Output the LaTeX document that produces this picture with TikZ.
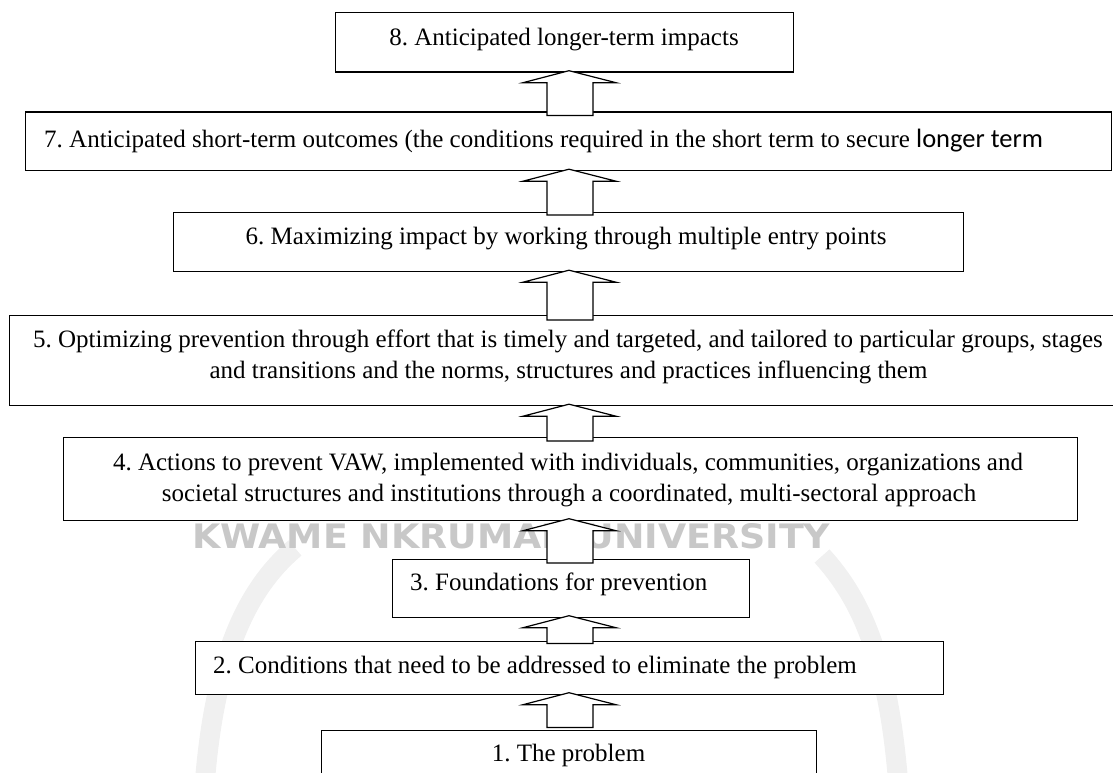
\documentclass[tikz,border=0pt]{standalone}
\usepackage{fontspec}
\setmainfont{Liberation Serif}
\newfontfamily\calibrifont{Carlito}
\newfontfamily\wmfont{DejaVu Sans Condensed}
\usetikzlibrary{calc}
\definecolor{wm}{RGB}{200,200,200}
\definecolor{logo}{RGB}{240,240,240}
\frenchspacing
\tikzset{
  box/.style={draw=black, line width=1.2pt, fill=white, rectangle, inner sep=0pt, anchor=north west},
  lbl/.style={inner sep=0pt, font=\fontsize{25}{31}\selectfont, anchor=base},
  lbll/.style={lbl, anchor=base west},
  barr/.style={draw=black, line width=1.2pt, fill=white, line join=miter},
  logoline/.style={draw=logo, line width=20pt},
}
% #1 shaft offset, #2 lower node, #3 upper node
\newcommand\blockarrow[3][4]{%
  \draw[barr] ($(ax |- #3.south)+(0,-2)$) -- ($(ax |- #3.south)+(47,10)$)
    -- ($(ax |- #3.south)+(24,10)$) -- ($(ax |- #2.north)+(24,#1)$)
    -- ($(ax |- #2.north)+(-22,#1)$) -- ($(ax |- #3.south)+(-22,10)$)
    -- ($(ax |- #3.south)+(-46,10)$) -- cycle;}
\begin{document}
\begin{tikzpicture}[x=1pt,y=-1pt]
\useasboundingbox (0,0) rectangle (1113,773);
\coordinate (ax) at (569,0);
% faint watermark logo
\draw[logoline] (205,780) .. controls (215,660) and (245,590) .. (295,548);
\draw[logoline] (898,780) .. controls (888,660) and (862,600) .. (822,556);
% watermark text
\node[text=wm, font=\wmfont\bfseries\fontsize{36}{36}\selectfont, anchor=base west, inner sep=0pt] (wm) at (192,548) {\resizebox{638pt}{25pt}{KWAME NKRUMAH UNIVERSITY}};
% boxes
\node[box, minimum width=458, minimum height=59.5] (b8) at (335,12) {};
\node[box, minimum width=1086, minimum height=58.5] (b7) at (25,111.5) {};
\node[box, minimum width=790.5, minimum height=59] (b6) at (172.5,212) {};
\node[box, minimum width=1110, minimum height=90] (b5) at (8.5,315) {};
\node[box, minimum width=1014.5, minimum height=82.5] (b4) at (62.5,437) {};
\node[box, minimum width=357, minimum height=57.5] (b3) at (392,559) {};
\node[box, minimum width=747.5, minimum height=53] (b2) at (195,640.5) {};
\node[box, minimum width=495, minimum height=60] (b1) at (321,729.5) {};
% block arrows
\blockarrow{b7}{b8}
\blockarrow[3]{b6}{b7}
\blockarrow[5]{b5}{b6}
\blockarrow{b4}{b5}
\blockarrow{b3}{b4}
\blockarrow[3]{b2}{b3}
\blockarrow[-2]{b1}{b2}
% texts
\node[lbl] (t8) at (564,46) {8. Anticipated longer-term impacts};
\node[lbll] (t7) at (44,147.5) {7. Anticipated short-term outcomes (the conditions required in the short term to secure {\calibrifont\fontsize{26.5}{31}\selectfont longer term}};
\node[lbl] (t6) at (566,244) {6. Maximizing impact by working through multiple entry points};
\node[lbl] (t5a) at (568,347) {5. Optimizing prevention through effort that is timely and targeted, and tailored to particular groups, stages};
\node[lbl] (t5b) at (568.5,378) {and transitions and the norms, structures and practices influencing them};
\node[lbl] (t4a) at (568,470.5) {4. Actions to prevent VAW, implemented with individuals, communities, organizations and};
\node[lbl] (t4b) at (569,501) {societal structures and institutions through a coordinated, multi-sectoral approach};
\node[lbll] (t3) at (410,590.5) {3. Foundations for prevention};
\node[lbll] (t2) at (213,673.5) {2. Conditions that need to be addressed to eliminate the problem};
\node[lbl] (t1) at (568.5,761) {1. The problem};
\end{tikzpicture}
\end{document}
